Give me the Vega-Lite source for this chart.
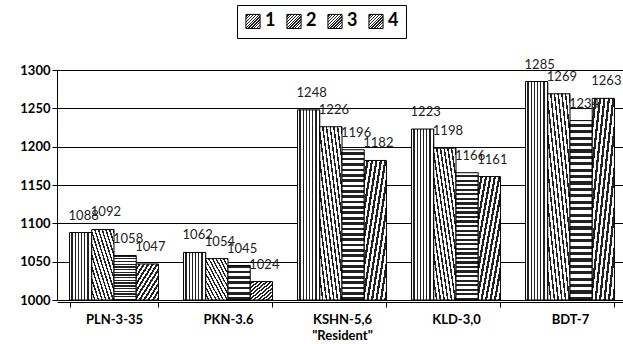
{
  "$schema": "https://vega.github.io/schema/vega-lite/v6.json",
  "width": 570,
  "height": 230,
  "autosize": {"type": "none"},
  "padding": {"left": 57, "top": 70, "right": 0, "bottom": 44},
  "background": "white",
  "config": {
    "view": {"stroke": null},
    "font": "Lato",
    "axis": {"labelFont": "Lato", "titleFont": "Lato", "labelColor": "#000", "titleColor": "#000"}
  },
  "data": {
    "values": [
      {"group": "PLN-3-35", "series": "1", "value": 1088},
      {"group": "PLN-3-35", "series": "2", "value": 1092},
      {"group": "PLN-3-35", "series": "3", "value": 1058},
      {"group": "PLN-3-35", "series": "4", "value": 1047},
      {"group": "PKN-3.6", "series": "1", "value": 1062},
      {"group": "PKN-3.6", "series": "2", "value": 1054},
      {"group": "PKN-3.6", "series": "3", "value": 1045},
      {"group": "PKN-3.6", "series": "4", "value": 1024},
      {"group": "KSHN-5,6", "series": "1", "value": 1248},
      {"group": "KSHN-5,6", "series": "2", "value": 1226},
      {"group": "KSHN-5,6", "series": "3", "value": 1196},
      {"group": "KSHN-5,6", "series": "4", "value": 1182},
      {"group": "KLD-3,0", "series": "1", "value": 1223},
      {"group": "KLD-3,0", "series": "2", "value": 1198},
      {"group": "KLD-3,0", "series": "3", "value": 1166},
      {"group": "KLD-3,0", "series": "4", "value": 1161},
      {"group": "BDT-7", "series": "1", "value": 1285},
      {"group": "BDT-7", "series": "2", "value": 1269},
      {"group": "BDT-7", "series": "3", "value": 1234},
      {"group": "BDT-7", "series": "4", "value": 1263}
    ]
  },
  "encoding": {
    "x": {
      "field": "group", "type": "nominal", "sort": null,
      "scale": {"paddingInner": 0.22, "paddingOuter": 0.11},
      "axis": {
        "title": "\"Resident\"", "titleFontWeight": "bold", "titleFontSize": 13, "titlePadding": 3,
        "labelAngle": 0, "labelFontWeight": "bold", "labelFontSize": 13, "labelPadding": 6,
        "tickBand": "extent", "domainColor": "#000", "tickColor": "#000", "tickSize": 5, "offset": 2
      }
    },
    "xOffset": {"field": "series", "type": "nominal", "scale": {"paddingInner": 0, "paddingOuter": 0}},
    "y": {
      "field": "value", "type": "quantitative",
      "scale": {"domain": [1000, 1300], "zero": false, "nice": false},
      "axis": {
        "title": null, "values": [1000, 1050, 1100, 1150, 1200, 1250, 1300], "format": "d",
        "labelOverlap": false,
        "labelFontWeight": "bold", "labelFontSize": 13, "labelPadding": 2,
        "grid": true, "gridColor": "#000", "gridOpacity": 1, "gridWidth": 1,
        "domainColor": "#000", "tickColor": "#000", "tickSize": 5
      }
    }
  },
  "layer": [
    {
      "mark": {"type": "bar", "strokeWidth": 1},
      "encoding": {
        "y2": {"datum": 1000},
        "fill": {
          "condition": [
            {"test": "datum.series === '1'", "value": {"gradient": "linear", "x1": 0, "y1": 0, "x2": 1, "y2": 0, "stops": [
                {"offset": 0, "color": "#fff"}, {"offset": 0.0857, "color": "#fff"}, {"offset": 0.0857, "color": "#222"}, {"offset": 0.1429, "color": "#222"},
                {"offset": 0.1429, "color": "#fff"}, {"offset": 0.2286, "color": "#fff"}, {"offset": 0.2286, "color": "#222"}, {"offset": 0.2857, "color": "#222"},
                {"offset": 0.2857, "color": "#fff"}, {"offset": 0.3714, "color": "#fff"}, {"offset": 0.3714, "color": "#222"}, {"offset": 0.4286, "color": "#222"},
                {"offset": 0.4286, "color": "#fff"}, {"offset": 0.5143, "color": "#fff"}, {"offset": 0.5143, "color": "#222"}, {"offset": 0.5714, "color": "#222"},
                {"offset": 0.5714, "color": "#fff"}, {"offset": 0.6571, "color": "#fff"}, {"offset": 0.6571, "color": "#222"}, {"offset": 0.7143, "color": "#222"},
                {"offset": 0.7143, "color": "#fff"}, {"offset": 0.8, "color": "#fff"}, {"offset": 0.8, "color": "#222"}, {"offset": 0.8571, "color": "#222"},
                {"offset": 0.8571, "color": "#fff"}, {"offset": 0.9429, "color": "#fff"}, {"offset": 0.9429, "color": "#222"}, {"offset": 1, "color": "#222"}
              ]}},
            {"test": "datum.series === '2'", "value": {"gradient": "linear", "x1": 0, "y1": 1, "x2": 1, "y2": 0, "stops": [
                {"offset": 0, "color": "#fff"}, {"offset": 0.05, "color": "#fff"}, {"offset": 0.05, "color": "#222"}, {"offset": 0.0833, "color": "#222"},
                {"offset": 0.0833, "color": "#fff"}, {"offset": 0.1333, "color": "#fff"}, {"offset": 0.1333, "color": "#222"}, {"offset": 0.1667, "color": "#222"},
                {"offset": 0.1667, "color": "#fff"}, {"offset": 0.2167, "color": "#fff"}, {"offset": 0.2167, "color": "#222"}, {"offset": 0.25, "color": "#222"},
                {"offset": 0.25, "color": "#fff"}, {"offset": 0.3, "color": "#fff"}, {"offset": 0.3, "color": "#222"}, {"offset": 0.3333, "color": "#222"},
                {"offset": 0.3333, "color": "#fff"}, {"offset": 0.3833, "color": "#fff"}, {"offset": 0.3833, "color": "#222"}, {"offset": 0.4167, "color": "#222"},
                {"offset": 0.4167, "color": "#fff"}, {"offset": 0.4667, "color": "#fff"}, {"offset": 0.4667, "color": "#222"}, {"offset": 0.5, "color": "#222"},
                {"offset": 0.5, "color": "#fff"}, {"offset": 0.55, "color": "#fff"}, {"offset": 0.55, "color": "#222"}, {"offset": 0.5833, "color": "#222"},
                {"offset": 0.5833, "color": "#fff"}, {"offset": 0.6333, "color": "#fff"}, {"offset": 0.6333, "color": "#222"}, {"offset": 0.6667, "color": "#222"},
                {"offset": 0.6667, "color": "#fff"}, {"offset": 0.7167, "color": "#fff"}, {"offset": 0.7167, "color": "#222"}, {"offset": 0.75, "color": "#222"},
                {"offset": 0.75, "color": "#fff"}, {"offset": 0.8, "color": "#fff"}, {"offset": 0.8, "color": "#222"}, {"offset": 0.8333, "color": "#222"},
                {"offset": 0.8333, "color": "#fff"}, {"offset": 0.8833, "color": "#fff"}, {"offset": 0.8833, "color": "#222"}, {"offset": 0.9167, "color": "#222"},
                {"offset": 0.9167, "color": "#fff"}, {"offset": 0.9667, "color": "#fff"}, {"offset": 0.9667, "color": "#222"}, {"offset": 1, "color": "#222"}
              ]}},
            {"test": "datum.series === '3'", "value": {"gradient": "linear", "x1": 0, "y1": 0, "x2": 0, "y2": 1, "stops": [
                {"offset": 0, "color": "#fff"}, {"offset": 0.0179, "color": "#fff"}, {"offset": 0.0179, "color": "#222"}, {"offset": 0.0357, "color": "#222"},
                {"offset": 0.0357, "color": "#fff"}, {"offset": 0.0536, "color": "#fff"}, {"offset": 0.0536, "color": "#222"}, {"offset": 0.0714, "color": "#222"},
                {"offset": 0.0714, "color": "#fff"}, {"offset": 0.0893, "color": "#fff"}, {"offset": 0.0893, "color": "#222"}, {"offset": 0.1071, "color": "#222"},
                {"offset": 0.1071, "color": "#fff"}, {"offset": 0.125, "color": "#fff"}, {"offset": 0.125, "color": "#222"}, {"offset": 0.1429, "color": "#222"},
                {"offset": 0.1429, "color": "#fff"}, {"offset": 0.1607, "color": "#fff"}, {"offset": 0.1607, "color": "#222"}, {"offset": 0.1786, "color": "#222"},
                {"offset": 0.1786, "color": "#fff"}, {"offset": 0.1964, "color": "#fff"}, {"offset": 0.1964, "color": "#222"}, {"offset": 0.2143, "color": "#222"},
                {"offset": 0.2143, "color": "#fff"}, {"offset": 0.2321, "color": "#fff"}, {"offset": 0.2321, "color": "#222"}, {"offset": 0.25, "color": "#222"},
                {"offset": 0.25, "color": "#fff"}, {"offset": 0.2679, "color": "#fff"}, {"offset": 0.2679, "color": "#222"}, {"offset": 0.2857, "color": "#222"},
                {"offset": 0.2857, "color": "#fff"}, {"offset": 0.3036, "color": "#fff"}, {"offset": 0.3036, "color": "#222"}, {"offset": 0.3214, "color": "#222"},
                {"offset": 0.3214, "color": "#fff"}, {"offset": 0.3393, "color": "#fff"}, {"offset": 0.3393, "color": "#222"}, {"offset": 0.3571, "color": "#222"},
                {"offset": 0.3571, "color": "#fff"}, {"offset": 0.375, "color": "#fff"}, {"offset": 0.375, "color": "#222"}, {"offset": 0.3929, "color": "#222"},
                {"offset": 0.3929, "color": "#fff"}, {"offset": 0.4107, "color": "#fff"}, {"offset": 0.4107, "color": "#222"}, {"offset": 0.4286, "color": "#222"},
                {"offset": 0.4286, "color": "#fff"}, {"offset": 0.4464, "color": "#fff"}, {"offset": 0.4464, "color": "#222"}, {"offset": 0.4643, "color": "#222"},
                {"offset": 0.4643, "color": "#fff"}, {"offset": 0.4821, "color": "#fff"}, {"offset": 0.4821, "color": "#222"}, {"offset": 0.5, "color": "#222"},
                {"offset": 0.5, "color": "#fff"}, {"offset": 0.5179, "color": "#fff"}, {"offset": 0.5179, "color": "#222"}, {"offset": 0.5357, "color": "#222"},
                {"offset": 0.5357, "color": "#fff"}, {"offset": 0.5536, "color": "#fff"}, {"offset": 0.5536, "color": "#222"}, {"offset": 0.5714, "color": "#222"},
                {"offset": 0.5714, "color": "#fff"}, {"offset": 0.5893, "color": "#fff"}, {"offset": 0.5893, "color": "#222"}, {"offset": 0.6071, "color": "#222"},
                {"offset": 0.6071, "color": "#fff"}, {"offset": 0.625, "color": "#fff"}, {"offset": 0.625, "color": "#222"}, {"offset": 0.6429, "color": "#222"},
                {"offset": 0.6429, "color": "#fff"}, {"offset": 0.6607, "color": "#fff"}, {"offset": 0.6607, "color": "#222"}, {"offset": 0.6786, "color": "#222"},
                {"offset": 0.6786, "color": "#fff"}, {"offset": 0.6964, "color": "#fff"}, {"offset": 0.6964, "color": "#222"}, {"offset": 0.7143, "color": "#222"},
                {"offset": 0.7143, "color": "#fff"}, {"offset": 0.7321, "color": "#fff"}, {"offset": 0.7321, "color": "#222"}, {"offset": 0.75, "color": "#222"},
                {"offset": 0.75, "color": "#fff"}, {"offset": 0.7679, "color": "#fff"}, {"offset": 0.7679, "color": "#222"}, {"offset": 0.7857, "color": "#222"},
                {"offset": 0.7857, "color": "#fff"}, {"offset": 0.8036, "color": "#fff"}, {"offset": 0.8036, "color": "#222"}, {"offset": 0.8214, "color": "#222"},
                {"offset": 0.8214, "color": "#fff"}, {"offset": 0.8393, "color": "#fff"}, {"offset": 0.8393, "color": "#222"}, {"offset": 0.8571, "color": "#222"},
                {"offset": 0.8571, "color": "#fff"}, {"offset": 0.875, "color": "#fff"}, {"offset": 0.875, "color": "#222"}, {"offset": 0.8929, "color": "#222"},
                {"offset": 0.8929, "color": "#fff"}, {"offset": 0.9107, "color": "#fff"}, {"offset": 0.9107, "color": "#222"}, {"offset": 0.9286, "color": "#222"},
                {"offset": 0.9286, "color": "#fff"}, {"offset": 0.9464, "color": "#fff"}, {"offset": 0.9464, "color": "#222"}, {"offset": 0.9643, "color": "#222"},
                {"offset": 0.9643, "color": "#fff"}, {"offset": 0.9821, "color": "#fff"}, {"offset": 0.9821, "color": "#222"}, {"offset": 1, "color": "#222"}
              ]}}
          ],
          "value": {"gradient": "linear", "x1": 0, "y1": 0, "x2": 1, "y2": 1, "stops": [
                {"offset": 0, "color": "#fff"}, {"offset": 0.05, "color": "#fff"}, {"offset": 0.05, "color": "#222"}, {"offset": 0.1, "color": "#222"},
                {"offset": 0.1, "color": "#fff"}, {"offset": 0.15, "color": "#fff"}, {"offset": 0.15, "color": "#222"}, {"offset": 0.2, "color": "#222"},
                {"offset": 0.2, "color": "#fff"}, {"offset": 0.25, "color": "#fff"}, {"offset": 0.25, "color": "#222"}, {"offset": 0.3, "color": "#222"},
                {"offset": 0.3, "color": "#fff"}, {"offset": 0.35, "color": "#fff"}, {"offset": 0.35, "color": "#222"}, {"offset": 0.4, "color": "#222"},
                {"offset": 0.4, "color": "#fff"}, {"offset": 0.45, "color": "#fff"}, {"offset": 0.45, "color": "#222"}, {"offset": 0.5, "color": "#222"},
                {"offset": 0.5, "color": "#fff"}, {"offset": 0.55, "color": "#fff"}, {"offset": 0.55, "color": "#222"}, {"offset": 0.6, "color": "#222"},
                {"offset": 0.6, "color": "#fff"}, {"offset": 0.65, "color": "#fff"}, {"offset": 0.65, "color": "#222"}, {"offset": 0.7, "color": "#222"},
                {"offset": 0.7, "color": "#fff"}, {"offset": 0.75, "color": "#fff"}, {"offset": 0.75, "color": "#222"}, {"offset": 0.8, "color": "#222"},
                {"offset": 0.8, "color": "#fff"}, {"offset": 0.85, "color": "#fff"}, {"offset": 0.85, "color": "#222"}, {"offset": 0.9, "color": "#222"},
                {"offset": 0.9, "color": "#fff"}, {"offset": 0.95, "color": "#fff"}, {"offset": 0.95, "color": "#222"}, {"offset": 1, "color": "#222"}
              ]}
        },
        "stroke": {
          "field": "series", "type": "nominal",
          "scale": {"domain": ["1", "2", "3", "4"], "range": ["#000", "#000", "#000", "#000"]},
          "legend": {
            "title": null, "orient": "none", "legendX": 180, "legendY": -65, "direction": "horizontal",
            "strokeColor": "#000", "padding": 7, "symbolType": "square", "symbolSize": 200,
            "symbolStrokeWidth": 1, "labelFontSize": 18, "labelFontWeight": "bold",
            "labelColor": "#000", "columnPadding": 8, "labelOffset": 3,
            "encode": {
              "symbols": {
                "update": {
                  "fillOpacity": {"value": 1},
                  "stroke": {"value": "#000"},
                  "fill": [
                    {"test": "datum.value === '1'", "value": {"gradient": "linear", "x1": 0, "y1": 0, "x2": 1, "y2": 0, "stops": [
                      {"offset": 0, "color": "#fff"}, {"offset": 0.1, "color": "#fff"}, {"offset": 0.1, "color": "#222"}, {"offset": 0.2, "color": "#222"},
                      {"offset": 0.2, "color": "#fff"}, {"offset": 0.3, "color": "#fff"}, {"offset": 0.3, "color": "#222"}, {"offset": 0.4, "color": "#222"},
                      {"offset": 0.4, "color": "#fff"}, {"offset": 0.5, "color": "#fff"}, {"offset": 0.5, "color": "#222"}, {"offset": 0.6, "color": "#222"},
                      {"offset": 0.6, "color": "#fff"}, {"offset": 0.7, "color": "#fff"}, {"offset": 0.7, "color": "#222"}, {"offset": 0.8, "color": "#222"},
                      {"offset": 0.8, "color": "#fff"}, {"offset": 0.9, "color": "#fff"}, {"offset": 0.9, "color": "#222"}, {"offset": 1, "color": "#222"}
                    ]}},
                    {"test": "datum.value === '2'", "value": {"gradient": "linear", "x1": 0, "y1": 1, "x2": 1, "y2": 0, "stops": [
                      {"offset": 0, "color": "#fff"}, {"offset": 0.1, "color": "#fff"}, {"offset": 0.1, "color": "#222"}, {"offset": 0.2, "color": "#222"},
                      {"offset": 0.2, "color": "#fff"}, {"offset": 0.3, "color": "#fff"}, {"offset": 0.3, "color": "#222"}, {"offset": 0.4, "color": "#222"},
                      {"offset": 0.4, "color": "#fff"}, {"offset": 0.5, "color": "#fff"}, {"offset": 0.5, "color": "#222"}, {"offset": 0.6, "color": "#222"},
                      {"offset": 0.6, "color": "#fff"}, {"offset": 0.7, "color": "#fff"}, {"offset": 0.7, "color": "#222"}, {"offset": 0.8, "color": "#222"},
                      {"offset": 0.8, "color": "#fff"}, {"offset": 0.9, "color": "#fff"}, {"offset": 0.9, "color": "#222"}, {"offset": 1, "color": "#222"}
                    ]}},
                    {"test": "datum.value === '3'", "value": {"gradient": "linear", "x1": 0, "y1": 0, "x2": 0, "y2": 1, "stops": [
                      {"offset": 0, "color": "#fff"}, {"offset": 0.1, "color": "#fff"}, {"offset": 0.1, "color": "#222"}, {"offset": 0.2, "color": "#222"},
                      {"offset": 0.2, "color": "#fff"}, {"offset": 0.3, "color": "#fff"}, {"offset": 0.3, "color": "#222"}, {"offset": 0.4, "color": "#222"},
                      {"offset": 0.4, "color": "#fff"}, {"offset": 0.5, "color": "#fff"}, {"offset": 0.5, "color": "#222"}, {"offset": 0.6, "color": "#222"},
                      {"offset": 0.6, "color": "#fff"}, {"offset": 0.7, "color": "#fff"}, {"offset": 0.7, "color": "#222"}, {"offset": 0.8, "color": "#222"},
                      {"offset": 0.8, "color": "#fff"}, {"offset": 0.9, "color": "#fff"}, {"offset": 0.9, "color": "#222"}, {"offset": 1, "color": "#222"}
                    ]}},
                    {"value": {"gradient": "linear", "x1": 0, "y1": 0, "x2": 1, "y2": 1, "stops": [
                      {"offset": 0, "color": "#fff"}, {"offset": 0.1, "color": "#fff"}, {"offset": 0.1, "color": "#222"}, {"offset": 0.2, "color": "#222"},
                      {"offset": 0.2, "color": "#fff"}, {"offset": 0.3, "color": "#fff"}, {"offset": 0.3, "color": "#222"}, {"offset": 0.4, "color": "#222"},
                      {"offset": 0.4, "color": "#fff"}, {"offset": 0.5, "color": "#fff"}, {"offset": 0.5, "color": "#222"}, {"offset": 0.6, "color": "#222"},
                      {"offset": 0.6, "color": "#fff"}, {"offset": 0.7, "color": "#fff"}, {"offset": 0.7, "color": "#222"}, {"offset": 0.8, "color": "#222"},
                      {"offset": 0.8, "color": "#fff"}, {"offset": 0.9, "color": "#fff"}, {"offset": 0.9, "color": "#222"}, {"offset": 1, "color": "#222"}
                    ]}}
                  ]
                }
              }
            }
          }
        }
      }
    },
    {
      "mark": {"type": "text", "dy": -17, "dx": 3, "fontSize": 13, "color": "#222", "font": "Lato"},
      "encoding": {
        "text": {"field": "value", "type": "quantitative", "format": "d"}
      }
    }
  ]
}
